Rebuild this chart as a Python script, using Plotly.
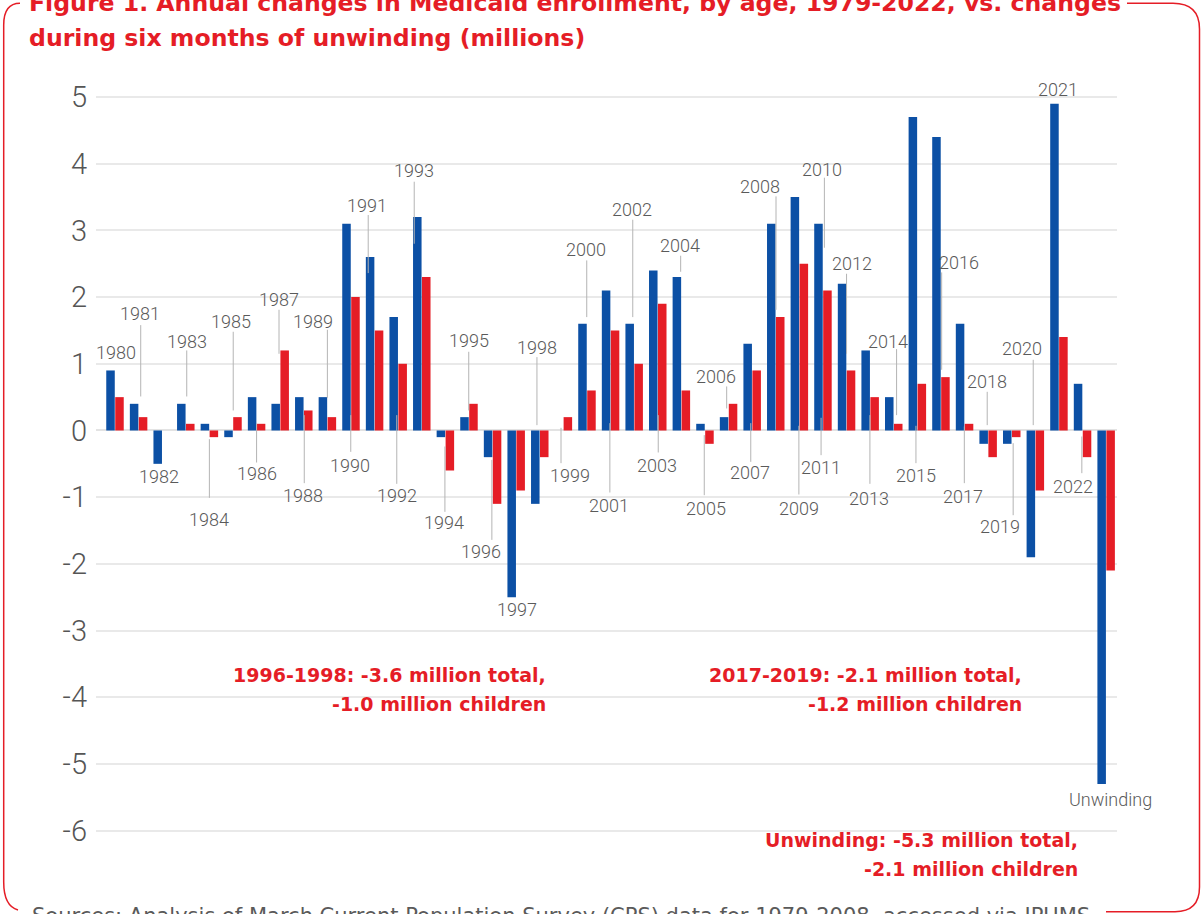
import plotly.graph_objects as go

# ---------------- data ----------------
groups = [str(y) for y in range(1980, 2010)] + ["2010-2011"] + [str(y) for y in range(2012, 2023)] + ["Unwinding"]

total = [0.9, 0.4, -0.5, 0.4, 0.1, -0.1, 0.5, 0.4, 0.5, 0.5,
         3.1, 2.6, 1.7, 3.2, -0.1, 0.2, -0.4, -2.5, -1.1, 0.0,
         1.6, 2.1, 1.6, 2.4, 2.3, 0.1, 0.2, 1.3, 3.1, 3.5,
         3.1, 2.2, 1.2, 0.5, 4.7, 4.4, 1.6, -0.2, -0.2, -1.9,
         4.9, 0.7, -5.3]

children = [0.5, 0.2, 0.0, 0.1, -0.1, 0.2, 0.1, 1.2, 0.3, 0.2,
            2.0, 1.5, 1.0, 2.3, -0.6, 0.4, -1.1, -0.9, -0.4, 0.2,
            0.6, 1.5, 1.0, 1.9, 0.6, -0.2, 0.4, 0.9, 1.7, 2.5,
            2.1, 0.9, 0.5, 0.1, 0.7, 0.8, 0.1, -0.4, -0.1, -0.9,
            1.4, -0.4, -2.1]

y_ticks = [5, 4, 3, 2, 1, 0, -1, -2, -3, -4, -5, -6]

# year label layout: text, text x, text y, line x, line y1, line y2 (None = no leader line)
year_labels = [
    ("1980", 0.04, 1.17, None, None, None),
    ("1981", 1.06, 1.76, 1.09, 1.58, 0.51),
    ("1982", 1.88, -0.69, None, None, None),
    ("1983", 3.04, 1.34, 3.04, 1.20, 0.51),
    ("1984", 4.00, -1.34, 4.00, -0.13, -1.01),
    ("1985", 4.92, 1.63, 5.01, 1.48, 0.30),
    ("1986", 6.00, -0.65, 6.00, 0.10, -0.48),
    ("1987", 6.94, 1.97, 6.95, 1.81, 1.15),
    ("1988", 7.98, -0.98, 8.02, 0.23, -0.79),
    ("1989", 8.38, 1.63, 9.00, 1.51, 0.49),
    ("1990", 9.96, -0.52, 9.99, 0.23, -0.32),
    ("1991", 10.69, 3.37, 10.73, 3.23, 2.36),
    ("1992", 11.94, -0.98, 11.94, 0.23, -0.80),
    ("1993", 12.68, 3.90, 12.68, 3.73, 2.80),
    ("1994", 13.95, -1.38, 13.98, -0.24, -1.22),
    ("1995", 14.99, 1.35, 14.99, 1.18, 0.30),
    ("1996", 15.51, -1.82, 15.97, -0.44, -1.64),
    ("1997", 17.05, -2.68, None, None, None),
    ("1998", 17.88, 1.25, 17.88, 1.10, 0.08),
    ("1999", 19.28, -0.67, 18.90, 0.04, -0.49),
    ("2000", 19.96, 2.71, 19.99, 2.55, 1.70),
    ("2001", 20.94, -1.12, 20.97, 0.11, -0.93),
    ("2002", 21.89, 3.31, 21.94, 3.16, 1.70),
    ("2003", 22.95, -0.52, 23.02, 0.23, -0.33),
    ("2004", 23.94, 2.78, 23.97, 2.62, 2.38),
    ("2005", 25.03, -1.17, 24.97, -0.07, -0.97),
    ("2006", 25.47, 0.81, 25.92, 0.66, 0.33),
    ("2007", 26.91, -0.63, 26.94, 0.11, -0.47),
    ("2008", 27.33, 3.66, 28.01, 3.51, 1.81),
    ("2009", 28.98, -1.17, 28.98, 0.07, -0.96),
    ("2010", 29.97, 3.91, 30.06, 3.79, 2.74),
    ("2011", 29.90, -0.56, 29.92, 0.19, -0.37),
    ("2012", 31.24, 2.50, 31.00, 2.35, 1.15),
    ("2013", 31.96, -1.02, 31.99, 0.23, -0.80),
    ("2014", 32.77, 1.34, 33.12, 1.22, 0.23),
    ("2015", 33.93, -0.68, 33.94, 0.07, -0.49),
    ("2016", 35.78, 2.52, 35.03, 2.37, 0.91),
    ("2017", 35.94, -0.99, 35.99, 0.06, -0.79),
    ("2018", 36.94, 0.73, 36.96, 0.58, 0.08),
    ("2019", 37.50, -1.44, 38.06, -0.19, -1.27),
    ("2020", 38.42, 1.23, 38.91, 1.06, 0.08),
    ("2021", 39.97, 5.12, None, None, None),
    ("2022", 40.61, -0.84, 40.97, -0.09, -0.64),
    ("Unwinding", 42.19, -5.53, None, None, None),
]

# callouts: lines of text, right-edge x, y of each line
callouts = [
    (["1996-1998: -3.6 million total,", "-1.0 million children"], 18.35, [-3.67, -4.10]),
    (["2017-2019: -2.1 million total,", "-1.2 million children"], 38.52, [-3.67, -4.10]),
    (["Unwinding: -5.3 million total,", "-2.1 million children"], 40.89, [-6.14, -6.57]),
]

title_lines = ["Figure 1. Annual changes in Medicaid enrollment, by age, 1979-2022, vs. changes",
               "during six months of unwinding (millions)"]
source_text = "Sources: Analysis of March Current Population Survey (CPS) data for 1979-2008, accessed via IPUMS"

# ---------------- style ----------------
BLUE = "#0c50a5"
RED = "#e51d26"
GRAY_TXT = "#5a5a5a"
W, H = 1202, 914
ML, MR, MT, MB = 96, 85, 77, 50
PW, PH = W - ML - MR, H - MT - MB
Y_RANGE = [-6.5, 5.3]
X_RANGE = [-0.805, 42.46]


def px(xp):
    return (xp - ML) / PW


def py(yp):
    return (H - MB - yp) / PH


def y_to_paper(v):
    return (v - Y_RANGE[0]) / (Y_RANGE[1] - Y_RANGE[0])


xs = list(range(len(groups)))

fig = go.Figure()
fig.add_trace(go.Bar(x=xs, y=total, name="Total", marker=dict(color=BLUE, line=dict(width=0)),
                     customdata=groups, hovertemplate="%{customdata}: %{y}<extra>Total</extra>"))
fig.add_trace(go.Bar(x=xs, y=children, name="Children", marker=dict(color=RED, line=dict(width=0)),
                     customdata=groups, hovertemplate="%{customdata}: %{y}<extra>Children</extra>"))

annotations = []
shapes = []
for text, tx, ty, lx, y1, y2 in year_labels:
    annotations.append(dict(x=tx, y=y_to_paper(ty), xref="x", yref="paper", text=text, showarrow=False,
                            xanchor="center", yanchor="middle",
                            font=dict(family="Roboto", size=18, color=GRAY_TXT, weight=300)))
    if lx is not None:
        shapes.append(dict(type="line", xref="x", yref="y", x0=lx, x1=lx, y0=y1, y1=y2,
                           line=dict(color="#b4b4b4", width=1), layer="above"))

for lines, rx, ys in callouts:
    for t, yy in zip(lines, ys):
        annotations.append(dict(x=rx, y=y_to_paper(yy), xref="x", yref="paper", text="<b>" + t + "</b>",
                                showarrow=False, xanchor="right", yanchor="middle",
                                font=dict(family="DejaVu Sans", size=19, color=RED)))

for t, yy in zip(title_lines, [3, 38]):
    annotations.append(dict(x=px(27), y=py(yy), xref="paper", yref="paper", text="<b>" + t + "</b>",
                            showarrow=False, xanchor="left", yanchor="middle",
                            font=dict(family="DejaVu Sans", size=23.6, color=RED)))

annotations.append(dict(x=px(30), y=py(916), xref="paper", yref="paper", text=source_text,
                        showarrow=False, xanchor="left", yanchor="middle",
                        font=dict(family="DejaVu Sans", size=21, color=GRAY_TXT)))


def pt(a, b):
    return f"{px(a):.5f},{py(b):.5f}"


border_left = (f"M {pt(20, 3.3)} Q {pt(3.7, 3.3)} {pt(3.7, 25)} L {pt(3.7, 882)} "
               f"Q {pt(3.7, 906)} {pt(18, 910)}")
border_right = (f"M {pt(1106, 911.7)} L {pt(1175, 911.7)} Q {pt(1199.5, 911.7)} {pt(1199.5, 887)} "
                f"L {pt(1199.5, 29)} Q {pt(1199.5, 3.3)} {pt(1173, 3.3)} L {pt(1127, 3.3)}")
for p in (border_left, border_right):
    shapes.append(dict(type="path", xref="paper", yref="paper", path=p,
                       line=dict(color=RED, width=1.5), layer="above"))

fig.update_layout(
    width=W, height=H,
    margin=dict(l=ML, r=MR, t=MT, b=MB),
    paper_bgcolor="white", plot_bgcolor="white",
    barmode="group", bargap=0.24, bargroupgap=0.05,
    showlegend=False,
    annotations=annotations,
    shapes=shapes,
    xaxis=dict(range=X_RANGE, showticklabels=False, showgrid=False, zeroline=False,
               showline=False, ticks=""),
    yaxis=dict(range=Y_RANGE, tickvals=y_ticks, ticktext=[str(v) for v in y_ticks],
               showgrid=True, gridcolor="#e9e9e9", gridwidth=1.5,
               zeroline=True, zerolinecolor="#e3e3e3", zerolinewidth=1.5,
               showline=False, ticks="", ticklabelstandoff=8,
               tickfont=dict(family="Roboto", size=29, color="#555555", weight=300)),
)

fig.write_html("out.html", config={"displayModeBar": False},
               post_script="document.body.style.margin='0';document.body.style.overflow='hidden';")
